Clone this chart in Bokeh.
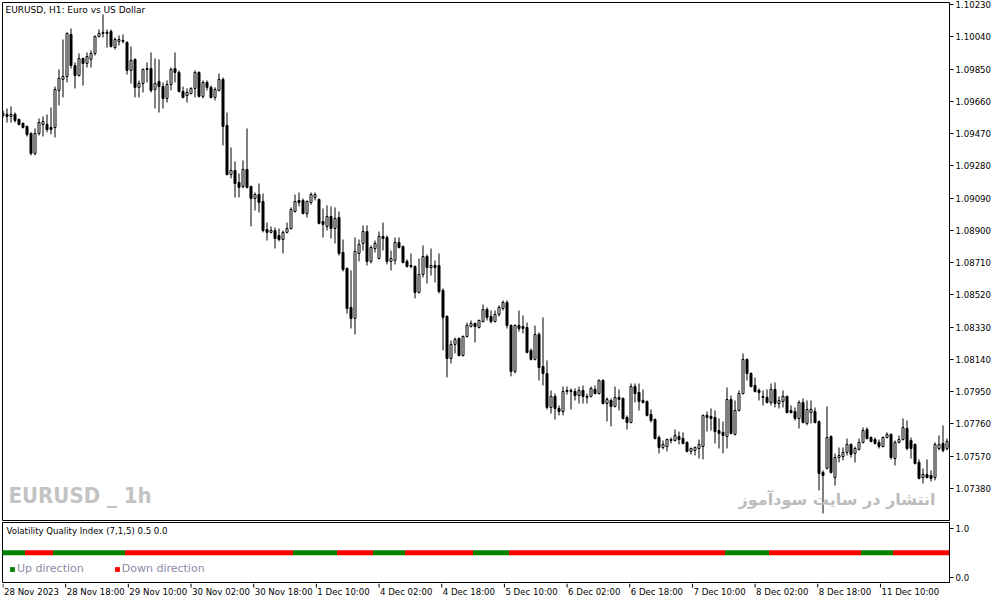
from bokeh.plotting import figure
from bokeh.models import (Range1d, FixedTicker, PrintfTickFormatter, Label, Legend,
                          LegendItem, ColumnDataSource)
from bokeh.layouts import column
from bokeh.embed import file_html
from bokeh.resources import INLINE
from bokeh.core.properties import value

# ---------------- data (EURUSD H1, 28 Nov 2023 02:00 .. 11 Dec 2023 22:00) ----------------
opens = [1.09577,1.09583,1.09571,1.09583,1.09553,1.09530,1.09512,1.09471,1.09353,1.09471,
         1.09524,1.09524,1.09506,1.09506,1.09724,1.09789,1.09806,1.10054,1.09871,1.09812,
         1.09912,1.09883,1.09907,1.09942,1.10042,1.10060,1.10066,1.10071,1.09977,1.10013,
         1.10018,1.10007,1.09842,1.09907,1.09742,1.09765,1.09848,1.09853,1.09730,1.09777,
         1.09747,1.09677,1.09759,1.09853,1.09830,1.09718,1.09694,1.09706,1.09736,1.09830,
         1.09689,1.09771,1.09742,1.09683,1.09724,1.09789,1.09518,1.09229,1.09253,1.09182,
         1.09158,1.09259,1.09158,1.09088,1.09111,1.09070,1.08905,1.08888,1.08899,1.08870,
         1.08846,1.08888,1.08911,1.09011,1.09076,1.09076,1.08999,1.09064,1.09094,1.09082,
         1.08952,1.08923,1.08982,1.08911,1.08976,1.08770,1.08676,1.08446,1.08381,1.08764,
         1.08823,1.08893,1.08717,1.08793,1.08734,1.08864,1.08858,1.08717,1.08723,1.08829,
         1.08805,1.08717,1.08687,1.08687,1.08534,1.08640,1.08746,1.08681,1.08693,1.08693,
         1.08546,1.08393,1.08145,1.08228,1.08263,1.08163,1.08275,1.08334,1.08352,1.08328,
         1.08363,1.08434,1.08393,1.08363,1.08405,1.08440,1.08475,1.08340,1.08069,1.08340,
         1.08334,1.08328,1.08193,1.08140,1.08287,1.08098,1.08057,1.07857,1.07922,1.07851,
         1.07833,1.07951,1.07951,1.07951,1.07927,1.07957,1.07916,1.07922,1.07963,1.07939,
         1.08016,1.07880,1.07898,1.07863,1.07916,1.07910,1.07798,1.07768,1.07980,1.07945,
         1.07898,1.07892,1.07816,1.07786,1.07680,1.07621,1.07627,1.07662,1.07662,1.07686,
         1.07674,1.07651,1.07598,1.07604,1.07615,1.07627,1.07810,1.07804,1.07798,1.07721,
         1.07710,1.07686,1.07904,1.07698,1.07839,1.07939,1.08140,1.08057,1.07986,1.07957,
         1.07916,1.07916,1.07886,1.07963,1.07880,1.07892,1.07922,1.07839,1.07833,1.07792,
         1.07886,1.07763,1.07827,1.07833,1.07774,1.07474,1.07498,1.07686,1.07444,1.07562,
         1.07568,1.07592,1.07639,1.07586,1.07610,1.07651,1.07727,1.07680,1.07668,1.07651,
         1.07627,1.07680,1.07698,1.07556,1.07651,1.07668,1.07733,1.07662,1.07639,1.07533,
         1.07444,1.07462,1.07456,1.07444,1.07615,1.07645,1.07615]
highs = [1.09606,1.09618,1.09630,1.09594,1.09559,1.09535,1.09518,1.09477,1.09500,1.09559,
         1.09571,1.09583,1.09624,1.09747,1.09848,1.10024,1.10066,1.10089,1.09889,1.09942,
         1.09918,1.09948,1.09960,1.10048,1.10083,1.10172,1.10083,1.10083,1.10036,1.10048,
         1.10054,1.10013,1.09983,1.09912,1.09783,1.09853,1.09889,1.09948,1.09912,1.09907,
         1.09771,1.09783,1.09859,1.09948,1.09842,1.09747,1.09736,1.09742,1.09842,1.09836,
         1.09783,1.09783,1.09753,1.09742,1.09824,1.09800,1.09594,1.09388,1.09306,1.09235,
         1.09312,1.09500,1.09164,1.09123,1.09176,1.09117,1.08946,1.08923,1.08917,1.08911,
         1.08899,1.08946,1.09035,1.09111,1.09123,1.09088,1.09076,1.09123,1.09123,1.09088,
         1.09029,1.09047,1.09041,1.09035,1.09011,1.08846,1.08681,1.08664,1.08858,1.08846,
         1.08929,1.08929,1.08811,1.08840,1.08893,1.08946,1.08870,1.08781,1.08858,1.08858,
         1.08811,1.08729,1.08764,1.08693,1.08734,1.08811,1.08758,1.08793,1.08723,1.08764,
         1.08558,1.08399,1.08251,1.08269,1.08269,1.08281,1.08357,1.08369,1.08357,1.08375,
         1.08463,1.08446,1.08428,1.08428,1.08458,1.08487,1.08487,1.08346,1.08346,1.08428,
         1.08399,1.08357,1.08204,1.08340,1.08299,1.08387,1.08134,1.07957,1.07939,1.07869,
         1.07980,1.07980,1.07969,1.07969,1.07980,1.07986,1.07939,1.07980,1.07986,1.08022,
         1.08022,1.07916,1.07910,1.07980,1.07963,1.07916,1.07810,1.07998,1.07998,1.07998,
         1.07963,1.07898,1.07845,1.07792,1.07692,1.07662,1.07674,1.07680,1.07727,1.07715,
         1.07710,1.07657,1.07621,1.07627,1.07668,1.07816,1.07833,1.07851,1.07839,1.07792,
         1.07774,1.07975,1.07927,1.07898,1.07957,1.08175,1.08145,1.08063,1.08034,1.07969,
         1.07957,1.07963,1.07998,1.08004,1.07922,1.07957,1.07927,1.07869,1.07857,1.07898,
         1.07910,1.07898,1.07898,1.07857,1.07780,1.07486,1.07863,1.07692,1.07586,1.07621,
         1.07621,1.07674,1.07645,1.07627,1.07674,1.07739,1.07739,1.07686,1.07680,1.07668,
         1.07686,1.07710,1.07704,1.07662,1.07692,1.07792,1.07780,1.07680,1.07645,1.07551,
         1.07498,1.07551,1.07486,1.07651,1.07692,1.07751,1.07674]
lows = [1.09565,1.09535,1.09535,1.09535,1.09518,1.09500,1.09453,1.09341,1.09341,1.09459,
        1.09453,1.09477,1.09465,1.09447,1.09636,1.09683,1.09771,1.09853,1.09736,1.09806,
        1.09753,1.09859,1.09859,1.09930,1.10036,1.10036,1.09977,1.09977,1.09965,1.09989,
        1.10001,1.09818,1.09765,1.09683,1.09683,1.09712,1.09771,1.09712,1.09618,1.09594,
        1.09618,1.09653,1.09724,1.09771,1.09712,1.09677,1.09653,1.09700,1.09683,1.09683,
        1.09677,1.09724,1.09677,1.09665,1.09718,1.09400,1.09223,1.09206,1.09094,1.09094,
        1.09147,1.09147,1.08923,1.09017,1.09005,1.08888,1.08840,1.08882,1.08793,1.08835,
        1.08764,1.08882,1.08905,1.09005,1.09041,1.08994,1.08976,1.09052,1.09076,1.08935,
        1.08858,1.08899,1.08852,1.08823,1.08752,1.08658,1.08410,1.08322,1.08287,1.08717,
        1.08781,1.08693,1.08705,1.08770,1.08729,1.08781,1.08699,1.08664,1.08699,1.08793,
        1.08705,1.08681,1.08676,1.08499,1.08528,1.08623,1.08587,1.08634,1.08593,1.08528,
        1.08193,1.08034,1.08116,1.08175,1.08157,1.08157,1.08269,1.08328,1.08240,1.08322,
        1.08357,1.08369,1.08352,1.08357,1.08393,1.08428,1.08322,1.08040,1.08057,1.08304,
        1.08293,1.08175,1.08134,1.08134,1.08016,1.07986,1.07845,1.07821,1.07786,1.07810,
        1.07810,1.07933,1.07845,1.07898,1.07880,1.07880,1.07880,1.07916,1.07933,1.07933,
        1.07874,1.07774,1.07745,1.07857,1.07839,1.07786,1.07727,1.07763,1.07886,1.07839,
        1.07880,1.07804,1.07768,1.07668,1.07586,1.07610,1.07598,1.07645,1.07657,1.07639,
        1.07639,1.07592,1.07580,1.07574,1.07556,1.07551,1.07715,1.07721,1.07645,1.07615,
        1.07586,1.07615,1.07698,1.07692,1.07833,1.07933,1.08016,1.07975,1.07945,1.07898,
        1.07869,1.07880,1.07869,1.07857,1.07851,1.07857,1.07821,1.07821,1.07780,1.07733,
        1.07763,1.07751,1.07763,1.07763,1.07368,1.07232,1.07492,1.07468,1.07397,1.07533,
        1.07545,1.07574,1.07562,1.07533,1.07604,1.07645,1.07668,1.07651,1.07639,1.07615,
        1.07621,1.07674,1.07551,1.07515,1.07645,1.07662,1.07604,1.07556,1.07521,1.07433,
        1.07409,1.07439,1.07421,1.07427,1.07604,1.07592,1.07604]
closes = [1.09588,1.09571,1.09583,1.09547,1.09524,1.09506,1.09465,1.09353,1.09471,1.09535,
          1.09541,1.09494,1.09494,1.09730,1.09795,1.09806,1.10060,1.09871,1.09812,1.09912,
          1.09883,1.09924,1.09942,1.10042,1.10060,1.10066,1.10060,1.09983,1.10024,1.10024,
          1.10013,1.09842,1.09901,1.09742,1.09765,1.09848,1.09853,1.09724,1.09765,1.09747,
          1.09677,1.09759,1.09848,1.09830,1.09718,1.09683,1.09712,1.09736,1.09830,1.09689,
          1.09771,1.09742,1.09683,1.09730,1.09789,1.09512,1.09229,1.09253,1.09176,1.09153,
          1.09259,1.09153,1.09088,1.09111,1.09064,1.08899,1.08888,1.08899,1.08852,1.08846,
          1.08888,1.08911,1.09023,1.09070,1.09064,1.08999,1.09070,1.09111,1.09111,1.08941,
          1.08935,1.08982,1.08911,1.08970,1.08764,1.08670,1.08440,1.08381,1.08776,1.08817,
          1.08893,1.08717,1.08799,1.08823,1.08864,1.08852,1.08717,1.08734,1.08829,1.08799,
          1.08711,1.08687,1.08693,1.08534,1.08640,1.08746,1.08681,1.08693,1.08681,1.08540,
          1.08387,1.08145,1.08228,1.08257,1.08163,1.08275,1.08340,1.08352,1.08334,1.08369,
          1.08434,1.08387,1.08363,1.08405,1.08446,1.08475,1.08340,1.08069,1.08340,1.08322,
          1.08322,1.08181,1.08140,1.08287,1.08092,1.08057,1.07857,1.07922,1.07851,1.07833,
          1.07951,1.07957,1.07957,1.07927,1.07957,1.07922,1.07922,1.07969,1.07939,1.08016,
          1.07880,1.07904,1.07863,1.07916,1.07904,1.07792,1.07768,1.07980,1.07939,1.07892,
          1.07886,1.07810,1.07780,1.07674,1.07621,1.07639,1.07668,1.07668,1.07692,1.07668,
          1.07645,1.07598,1.07615,1.07621,1.07639,1.07810,1.07798,1.07792,1.07715,1.07704,
          1.07692,1.07904,1.07704,1.07839,1.07939,1.08140,1.08057,1.07980,1.07951,1.07945,
          1.07922,1.07886,1.07963,1.07880,1.07898,1.07922,1.07827,1.07827,1.07792,1.07886,
          1.07768,1.07845,1.07845,1.07768,1.07468,1.07456,1.07680,1.07474,1.07562,1.07574,
          1.07592,1.07639,1.07580,1.07615,1.07651,1.07721,1.07674,1.07657,1.07645,1.07627,
          1.07680,1.07698,1.07562,1.07651,1.07668,1.07739,1.07615,1.07615,1.07527,1.07439,
          1.07462,1.07444,1.07439,1.07639,1.07639,1.07604,1.07657]

# Volatility Quality Index direction, as runs of consecutive bars
vqi_runs = [("up", 6), ("down", 7), ("up", 18), ("down", 42), ("up", 11), ("down", 9),
            ("up", 8), ("down", 17), ("up", 9), ("down", 54), ("up", 11), ("down", 23),
            ("up", 8), ("down", 14)]
vqi_level = 0.5

price_ticks = [1.10230, 1.10040, 1.09850, 1.09660, 1.09470, 1.09280, 1.09090, 1.08900,
               1.08710, 1.08520, 1.08330, 1.08140, 1.07950, 1.07760, 1.07570, 1.07380]
time_tick_bars = [0, 16, 32, 48, 64, 80, 96, 112, 128, 144, 160, 176, 192, 208, 224]
time_labels = ["28 Nov 2023", "28 Nov 18:00", "29 Nov 10:00", "30 Nov 02:00", "30 Nov 18:00",
               "1 Dec 10:00", "4 Dec 02:00", "4 Dec 18:00", "5 Dec 10:00", "6 Dec 02:00",
               "6 Dec 18:00", "7 Dec 10:00", "8 Dec 02:00", "8 Dec 18:00", "11 Dec 10:00"]

# ---------------- build ----------------
FONT = "DejaVu Sans"
AX_SIZE = "8.6px"
W = 1000
n = len(opens)
xs = list(range(n))
up = [c >= o for o, c in zip(opens, closes)]
src = ColumnDataSource(dict(
    x=xs, high=highs, low=lows,
    top=[max(o, c) for o, c in zip(opens, closes)],
    bottom=[min(o, c) for o, c in zip(opens, closes)],
    fill=["white" if u else "black" for u in up],
))

x_range = Range1d(-0.125, 236.625)          # 947 px frame -> 4 px per bar


def style_axis(ax):
    ax.major_tick_out = 4
    ax.major_tick_in = 0
    ax.minor_tick_out = 0
    ax.minor_tick_in = 0
    ax.axis_line_color = "black"
    ax.major_tick_line_color = "black"
    ax.major_label_standoff = 2
    ax.major_label_text_font = FONT
    ax.major_label_text_font_size = AX_SIZE
    ax.major_label_text_color = "black"


def bare(fig):
    fig.xgrid.visible = False
    fig.ygrid.visible = False
    fig.background_fill_color = "white"
    fig.border_fill_color = "white"


# ---------------- price panel ----------------
p = figure(width=W, height=521, x_range=x_range, y_range=Range1d(1.07191, 1.10242),
           output_backend="svg", toolbar_location=None, x_axis_location=None,
           y_axis_location="right", min_border_left=2, min_border_right=51,
           min_border_top=2, min_border_bottom=1)
bare(p)
p.outline_line_color = "black"
p.outline_line_alpha = 1

ya = p.yaxis[0]
ya.ticker = FixedTicker(ticks=price_ticks)
ya.formatter = PrintfTickFormatter(format="%.5f")
style_axis(ya)

p.segment(x0="x", y0="low", x1="x", y1="high", source=src, line_color="black", line_width=1)
p.vbar(x="x", width=0.5, top="top", bottom="bottom", source=src,
       fill_color="fill", line_color="black", line_width=1)

p.add_layout(Label(x=-0.125, y=1.10242, x_offset=3, y_offset=-2,
                   text="EURUSD, H1:  Euro vs US Dollar", text_baseline="top",
                   text_font=FONT, text_font_size="9px", text_color="black"))
p.add_layout(Label(x=6, y=25, x_units="screen", y_units="screen", text="EURUSD _ 1h",
                   text_font="DejaVu Sans Condensed, Liberation Sans", text_font_style="bold",
                   text_font_size="22px", text_color="#c3c3c3", text_baseline="alphabetic"))
p.add_layout(Label(x=933, y=21, x_units="screen", y_units="screen", text_align="right",
                   text="انتشار در سایت سودآموز", text_font=FONT, text_font_style="bold",
                   text_font_size="16px", text_color="#bcbcbc", text_baseline="alphabetic"))

# ---------------- indicator panel ----------------
p2 = figure(width=W, height=62, x_range=x_range, y_range=Range1d(-0.108, 1.116),
            output_backend="svg", toolbar_location=None, y_axis_location="right",
            x_axis_location=None, min_border_left=2, min_border_right=51,
            min_border_top=1, min_border_bottom=1)
bare(p2)
p2.outline_line_color = "black"
p2.outline_line_alpha = 1

dirs = []
for d, k in vqi_runs:
    dirs += [d] * k
ux = [i for i, d in enumerate(dirs) if d == "up"]
dx = [i for i, d in enumerate(dirs) if d == "down"]
r_up = p2.rect(x=ux, y=[vqi_level] * len(ux), width=1.0, height=5, height_units="screen",
               fill_color="#008000", line_color=None)
r_dn = p2.rect(x=dx, y=[vqi_level] * len(dx), width=1.0, height=5, height_units="screen",
               fill_color="#ff0000", line_color=None)

legend = Legend(items=[LegendItem(label="Up direction", renderers=[r_up]),
                       LegendItem(label="Down direction", renderers=[r_dn])],
                orientation="horizontal", location=(7, 7), glyph_width=6, glyph_height=6,
                label_standoff=2, spacing=30, padding=0, margin=0, label_height=12,
                label_text_font=FONT, label_text_font_size="11px",
                label_text_color="#8c8ca8", border_line_color=None,
                background_fill_alpha=0)
p2.add_layout(legend)

p2.add_layout(Label(x=-0.125, y=1.116, x_offset=4, y_offset=-3,
                    text="Volatility Quality Index (7,1,5) 0.5 0.0", text_baseline="top",
                    text_font=FONT, text_font_size="8.6px", text_color="black"))

ya2 = p2.yaxis[0]
ya2.ticker = FixedTicker(ticks=[0.0, 1.0])
ya2.formatter = PrintfTickFormatter(format="%.1f")
style_axis(ya2)

# ---------------- time scale strip (labels start at their tick, as in the terminal) ----
# same 4 px per bar as the panels above, but a wider frame so the last label is not cut
strip_right = 31
strip_frame = W - 2 - strip_right
p3 = figure(width=W, height=17, x_range=Range1d(-0.125, -0.125 + strip_frame / 4.0),
            y_range=Range1d(0, 17), output_backend="svg", toolbar_location=None,
            x_axis_location=None, y_axis_location=None, min_border_left=2,
            min_border_right=strip_right, min_border_top=0, min_border_bottom=0)
bare(p3)
p3.outline_line_color = None
nt = len(time_tick_bars)
p3.segment(x0=time_tick_bars, x1=time_tick_bars, y0=[17] * nt, y1=[13] * nt,
           line_color="black", line_width=1)
p3.text(x=time_tick_bars, y=[14] * nt, text=time_labels, x_offset=1,
        text_align="left", text_baseline="top", text_font=value(FONT),
        text_font_size=value(AX_SIZE), text_color="black")

layout = column(p, p2, p3, spacing=0)
open("out.html", "w").write(file_html(layout, INLINE))
